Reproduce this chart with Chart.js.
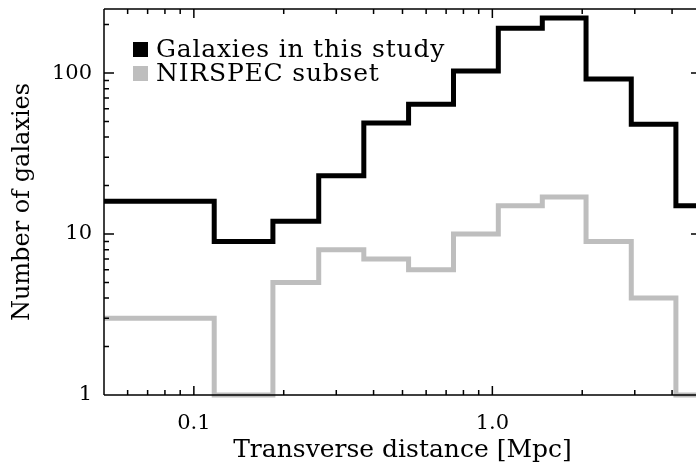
<!DOCTYPE html>
<html>
<head>
<meta charset="utf-8">
<script src="https://cdn.jsdelivr.net/npm/chart.js@4.4.1/dist/chart.umd.min.js"></script>
<style>
  html, body { margin: 0; padding: 0; background: #fff; overflow: hidden; }
  #wrap { width: 706px; height: 466px; }
</style>
</head>
<body>
<div id="wrap"><canvas id="histo" width="706" height="466"></canvas></div>
<script>
// bin edges (Mpc) and counts per bin
const binEdges = [0.05, 0.117, 0.184, 0.262, 0.371, 0.524, 0.741, 1.047, 1.47, 2.06, 2.92, 4.12, 5.0];
const allCounts = [16, 9, 12, 23, 49, 64, 103, 190, 220, 92, 48, 15];
const nirspecCounts = [3, 1, 5, 8, 7, 6, 10, 15, 17, 9, 4, 1];
const seriesNames = ["Galaxies in this study", "NIRSPEC subset"];

const xTickValues = [0.1, 1.0];
const xTickLabels = ["0.1", "1.0"];
const xMinorTicks = [0.06, 0.07, 0.08, 0.09, 0.2, 0.3, 0.4, 0.5, 0.6, 0.7, 0.8, 0.9, 2, 3, 4, 5];
const yTickValues = [1, 10, 100];
const yTickLabels = ["1", "10", "100"];
const yMinorTicks = [2, 3, 4, 5, 6, 7, 8, 9, 20, 30, 40, 50, 60, 70, 80, 90, 200];

const FONT = "'DejaVu Serif', serif";

// points at left bin edges, last point closes the final bin
function steps(counts) {
  return binEdges.map((e, i) => ({ x: e, y: counts[Math.min(i, counts.length - 1)] }));
}

// IDL-style frame with inward ticks on all four sides
const framePlugin = {
  id: "frame",
  afterDatasetsDraw(chart) {
    const { ctx, chartArea: a, scales } = chart;
    const xs = scales.x, ys = scales.y;
    ctx.save();
    ctx.strokeStyle = "#000";
    ctx.lineWidth = 1.5;
    ctx.beginPath();
    ctx.moveTo(a.left, a.top); ctx.lineTo(a.right, a.top);
    ctx.moveTo(a.left, a.bottom); ctx.lineTo(a.right, a.bottom);
    ctx.moveTo(a.left, a.top); ctx.lineTo(a.left, a.bottom);
    ctx.moveTo(a.right, a.top); ctx.lineTo(a.right, a.bottom);
    const xt = (v, len) => {
      const p = xs.getPixelForValue(v);
      ctx.moveTo(p, a.bottom); ctx.lineTo(p, a.bottom - len);
      ctx.moveTo(p, a.top); ctx.lineTo(p, a.top + len);
    };
    const yt = (v, len) => {
      const p = ys.getPixelForValue(v);
      ctx.moveTo(a.left, p); ctx.lineTo(a.left + len, p);
      ctx.moveTo(a.right, p); ctx.lineTo(a.right - len, p);
    };
    xTickValues.forEach(v => xt(v, 9));
    xMinorTicks.forEach(v => xt(v, 5));
    yTickValues.forEach(v => yt(v, 10));
    yMinorTicks.forEach(v => yt(v, 5));
    ctx.stroke();

    // legend
    ctx.font = "25px " + FONT;
    ctx.letterSpacing = "0.8px";
    ctx.textBaseline = "alphabetic";
    chart.data.datasets.forEach((ds, i) => {
      const y = 42 + i * 24;
      ctx.fillStyle = ds.borderColor;
      ctx.fillRect(133, y, 15, 15);
      ctx.fillStyle = "#000";
      ctx.fillText(ds.label, 156, y + 15);
    });
    ctx.restore();
  }
};

new Chart(document.getElementById("histo"), {
  type: "line",
  data: {
    datasets: [
      {
        label: seriesNames[0],
        data: steps(allCounts),
        borderColor: "#000000",
        borderWidth: 5,
        stepped: true,
        pointRadius: 0,
        fill: false,
        clip: false,
      },
      {
        label: seriesNames[1],
        data: steps(nirspecCounts),
        borderColor: "#bebebe",
        borderWidth: 5,
        stepped: true,
        pointRadius: 0,
        fill: false,
        clip: false,
      },
    ],
  },
  options: {
    responsive: false,
    animation: false,
    layout: { padding: { top: 9, right: 5, left: 0, bottom: 0 } },
    plugins: {
      legend: { display: false },
      tooltip: { enabled: false },
    },
    scales: {
      x: {
        type: "logarithmic",
        min: 0.05,
        max: 5,
        grid: { display: false, drawTicks: false },
        border: { display: false },
        afterBuildTicks: (s) => { s.ticks = xTickValues.map(v => ({ value: v })); },
        afterFit: (s) => { s.height = 71; s.paddingLeft = 0; s.paddingRight = 0; },
        ticks: {
          autoSkip: false,
          maxRotation: 0,
          padding: 16,
          color: "#000",
          font: { family: FONT, size: 21 },
          callback: (v) => xTickLabels[xTickValues.indexOf(v)] ?? "",
        },
        title: {
          display: true,
          text: "Transverse distance [Mpc]",
          color: "#000",
          font: { family: FONT, size: 25 },
          padding: { top: 0, bottom: 1 },
        },
      },
      y: {
        type: "logarithmic",
        min: 1,
        max: 250,
        grid: { display: false, drawTicks: false },
        border: { display: false },
        afterBuildTicks: (s) => { s.ticks = yTickValues.map(v => ({ value: v })); },
        afterFit: (s) => { s.width = 104; s.paddingTop = 0; s.paddingBottom = 0; },
        ticks: {
          autoSkip: false,
          padding: 12,
          color: "#000",
          font: { family: FONT, size: 21 },
          callback: (v) => yTickLabels[yTickValues.indexOf(v)] ?? "",
        },
        title: {
          display: true,
          text: "Number of galaxies",
          color: "#000",
          font: { family: FONT, size: 24 },
          padding: { top: 8, bottom: 0 },
        },
      },
    },
  },
  plugins: [framePlugin],
});
</script>
</body>
</html>
